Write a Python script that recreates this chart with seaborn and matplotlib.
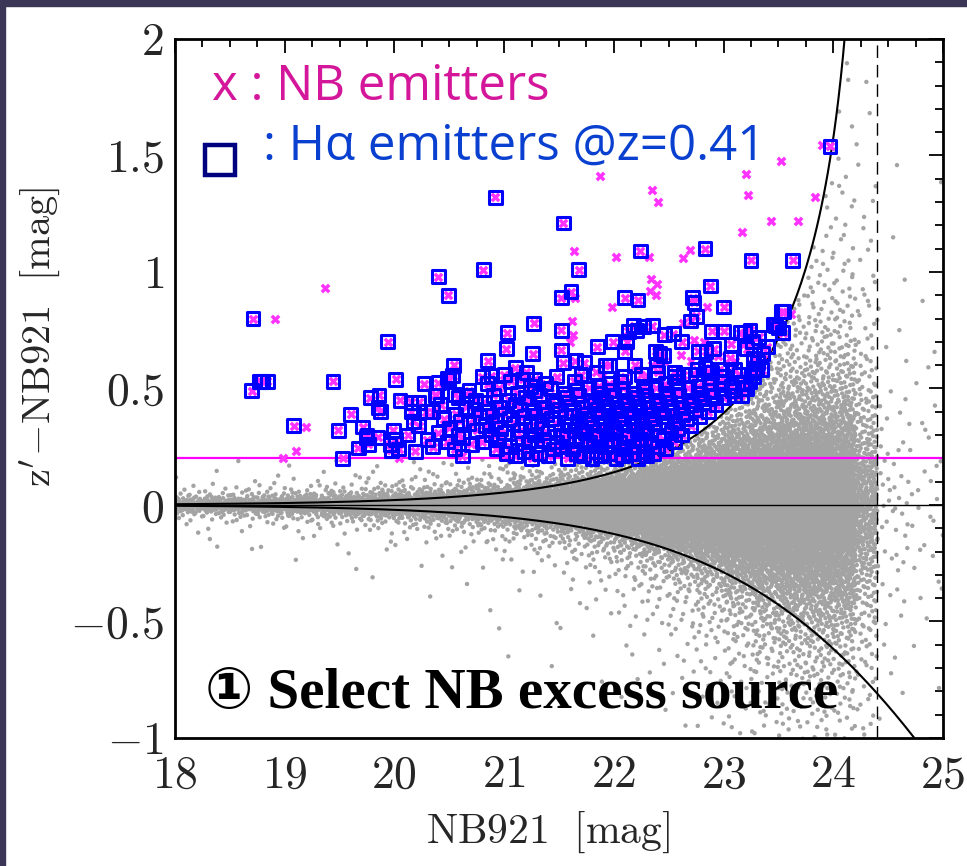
import numpy as np
import pandas as pd
import matplotlib
matplotlib.use("Agg")
import matplotlib.pyplot as plt
from matplotlib.ticker import MultipleLocator, FuncFormatter
from matplotlib.patches import Rectangle
import seaborn as sns

# ---------------------------------------------------------------------------
# H-alpha emitters at z=0.41: NB921 magnitude and z'-NB921 colour
# ---------------------------------------------------------------------------
ha_mag = [
    # bright, isolated sources
    18.71, 18.70, 18.77, 18.80, 18.84, 19.08, 19.44, 19.94, 19.53, 19.49,
    19.60, 19.71, 19.78, 19.86, 19.85, 19.87, 19.74, 19.67, 19.76, 19.85,
    20.01, 20.05, 20.15, 20.22, 20.27, 20.15, 20.17, 19.99, 19.96, 20.01,
    20.04, 19.97, 20.19, 20.29, 19.75,
    20.92, 21.54, 20.81, 20.40, 20.49, 21.68, 21.52, 21.61, 21.27, 21.03,
    21.02, 21.26, 21.52, 21.52, 21.54, 21.65, 21.73, 21.85, 21.99, 21.92,
    20.85, 20.80, 20.88, 21.10, 20.54, 20.53, 20.48, 20.40, 20.37, 20.55,
    20.66, 21.17, 21.28, 20.38, 20.49,
    22.24, 22.83, 23.25, 23.63, 22.88, 22.10, 22.22, 22.72, 22.73, 22.75,
    23.00, 23.53, 22.18, 22.13, 22.21, 22.27, 22.35, 22.70, 22.46, 22.54,
    22.89, 23.00, 23.15, 23.19, 23.45, 23.54, 22.12, 22.10, 22.38, 22.42,
    22.45, 22.62, 22.77, 22.84, 22.91, 23.07, 23.21, 23.26, 23.32, 23.27,
    23.06, 21.96, 22.19, 22.39, 22.55, 22.63, 22.76, 22.83, 22.89, 22.96,
    23.10, 23.35, 23.27, 23.21, 23.16, 23.55, 23.47, 23.50, 23.24, 23.40,
    23.36, 23.31, 23.28, 23.97,
    # crowded region just above the colour cut
    20.62, 21.02, 21.10, 21.25, 21.32, 21.40, 21.58, 21.66, 21.72, 21.80,
    21.88, 21.95, 22.02, 22.08, 22.16, 22.22, 22.30, 22.36,
    20.35, 20.55, 20.70, 20.93, 21.05, 21.18, 21.30, 21.45, 21.52, 21.62,
    21.76, 21.84, 21.92, 22.00, 22.10, 22.18, 22.27, 22.40, 22.47,
    20.30, 20.48, 20.62, 20.80, 20.95, 21.12, 21.22, 21.36, 21.48, 21.57,
    21.70, 21.78, 21.86, 21.97, 22.05, 22.13, 22.24, 22.33, 22.45, 22.55,
    20.12, 20.40, 20.58, 20.75, 20.88, 21.00, 21.15, 21.28, 21.40, 21.53,
    21.64, 21.74, 21.83, 21.93, 22.02, 22.12, 22.21, 22.30, 22.41, 22.52, 22.62,
    20.22, 20.50, 20.68, 20.83, 20.97, 21.08, 21.24, 21.34, 21.46, 21.60,
    21.70, 21.80, 21.90, 22.00, 22.09, 22.18, 22.27, 22.37, 22.48, 22.58, 22.70,
    20.45, 20.60, 20.78, 20.92, 21.05, 21.18, 21.30, 21.43, 21.56, 21.67,
    21.77, 21.88, 21.97, 22.06, 22.16, 22.25, 22.35, 22.45, 22.55, 22.66, 22.78,
    20.35, 20.56, 20.73, 20.86, 21.00, 21.14, 21.27, 21.39, 21.50, 21.63,
    21.74, 21.85, 21.95, 22.04, 22.14, 22.23, 22.33, 22.43, 22.53, 22.63,
    22.74, 22.86,
    20.42, 20.65, 20.82, 20.96, 21.10, 21.22, 21.36, 21.47, 21.59, 21.71,
    21.82, 21.92, 22.02, 22.12, 22.22, 22.31, 22.41, 22.51, 22.61, 22.71,
    22.82, 22.93,
    20.58, 20.74, 20.90, 21.04, 21.19, 21.32, 21.44, 21.57, 21.68, 21.79,
    21.90, 22.00, 22.10, 22.20, 22.29, 22.39, 22.49, 22.59, 22.69, 22.80,
    22.90, 23.00, 23.10,
    20.68, 20.95, 21.12, 21.28, 21.42, 21.55, 21.66, 21.77, 21.87, 21.98,
    22.08, 22.18, 22.28, 22.38, 22.48, 22.58, 22.68, 22.78, 22.88, 22.98,
    23.08, 23.18,
    20.85, 21.06, 21.24, 21.38, 21.64, 21.86, 21.96, 22.06, 22.27, 22.47,
    22.57, 22.77, 22.87, 22.97, 23.07, 23.17, 23.24,
    21.00, 21.20, 21.48, 21.70, 21.84, 22.10, 22.25, 22.40, 22.55, 22.70,
    22.86, 23.00, 23.14, 23.27, 23.30,
]
ha_col = [
    0.80, 0.49, 0.53, 0.53, 0.53, 0.34, 0.53, 0.70, 0.20, 0.32,
    0.39, 0.335, 0.46, 0.47, 0.42, 0.40, 0.29, 0.245, 0.26, 0.29,
    0.54, 0.45, 0.44, 0.44, 0.52, 0.40, 0.36, 0.32, 0.26, 0.28,
    0.24, 0.235, 0.23, 0.40, 0.30,
    1.32, 1.21, 1.01, 0.98, 0.90, 1.01, 0.89, 0.915, 0.78, 0.74,
    0.67, 0.65, 0.75, 0.665, 0.61, 0.62, 0.61, 0.68, 0.70, 0.60,
    0.62, 0.55, 0.555, 0.59, 0.60, 0.555, 0.545, 0.525, 0.47, 0.475,
    0.47, 0.54, 0.54, 0.47, 0.54,
    1.09, 1.10, 1.05, 1.05, 0.94, 0.89, 0.88, 0.89, 0.87, 0.81,
    0.85, 0.83, 0.77, 0.745, 0.75, 0.765, 0.77, 0.79, 0.73, 0.735,
    0.745, 0.745, 0.74, 0.74, 0.776, 0.74, 0.70, 0.66, 0.66, 0.65,
    0.64, 0.70, 0.66, 0.66, 0.67, 0.69, 0.67, 0.70, 0.72, 0.63,
    0.63, 0.60, 0.60, 0.60, 0.57, 0.56, 0.58, 0.59, 0.57, 0.58,
    0.58, 0.58, 0.55, 0.50, 0.47, 0.83, 0.77, 0.76, 0.75, 0.68,
    0.65, 0.61, 0.585, 1.54,
    0.21, 0.22, 0.21, 0.20, 0.22, 0.21, 0.20, 0.22, 0.21, 0.20,
    0.21, 0.22, 0.20, 0.21, 0.22, 0.20, 0.21, 0.22,
    0.25, 0.24, 0.26, 0.24, 0.25, 0.23, 0.26, 0.24, 0.25, 0.24,
    0.26, 0.23, 0.25, 0.26, 0.24, 0.25, 0.23, 0.25, 0.24,
    0.28, 0.27, 0.29, 0.27, 0.28, 0.29, 0.27, 0.28, 0.27, 0.29,
    0.28, 0.27, 0.29, 0.28, 0.27, 0.29, 0.28, 0.27, 0.28, 0.27,
    0.30, 0.31, 0.30, 0.32, 0.30, 0.31, 0.32, 0.30, 0.31, 0.30,
    0.32, 0.31, 0.30, 0.32, 0.31, 0.30, 0.32, 0.31, 0.30, 0.31, 0.30,
    0.34, 0.33, 0.35, 0.34, 0.33, 0.35, 0.34, 0.33, 0.35, 0.34,
    0.33, 0.35, 0.34, 0.33, 0.35, 0.34, 0.33, 0.35, 0.34, 0.33, 0.34,
    0.37, 0.36, 0.38, 0.36, 0.37, 0.38, 0.36, 0.37, 0.38, 0.36,
    0.37, 0.38, 0.36, 0.37, 0.38, 0.36, 0.37, 0.38, 0.36, 0.37, 0.38,
    0.40, 0.39, 0.41, 0.40, 0.39, 0.41, 0.40, 0.39, 0.41, 0.40,
    0.39, 0.41, 0.40, 0.39, 0.41, 0.40, 0.39, 0.41, 0.40, 0.39,
    0.41, 0.40,
    0.43, 0.42, 0.44, 0.42, 0.43, 0.44, 0.42, 0.43, 0.44, 0.42,
    0.43, 0.44, 0.42, 0.43, 0.44, 0.42, 0.43, 0.44, 0.42, 0.43,
    0.44, 0.43,
    0.46, 0.45, 0.47, 0.45, 0.46, 0.47, 0.45, 0.46, 0.47, 0.45,
    0.46, 0.47, 0.45, 0.46, 0.47, 0.45, 0.46, 0.47, 0.45, 0.46,
    0.47, 0.46, 0.47,
    0.49, 0.50, 0.48, 0.49, 0.50, 0.48, 0.49, 0.50, 0.48, 0.49,
    0.50, 0.48, 0.49, 0.50, 0.48, 0.49, 0.50, 0.48, 0.49, 0.50,
    0.49, 0.50,
    0.52, 0.53, 0.51, 0.52, 0.53, 0.51, 0.52, 0.53, 0.51, 0.52,
    0.53, 0.51, 0.52, 0.53, 0.51, 0.52, 0.53,
    0.56, 0.57, 0.55, 0.56, 0.57, 0.55, 0.56, 0.57, 0.55, 0.56,
    0.57, 0.55, 0.56, 0.57, 0.58,
]

# NB excess sources without an H-alpha identification
nb_mag = [
    18.91, 19.37, 19.19, 19.10, 18.98, 20.04, 21.87, 21.64, 22.02, 21.65,
    21.98, 21.62, 21.63, 21.60, 23.52, 23.20, 23.22, 23.83, 23.68, 23.17,
    22.35, 22.40, 22.32, 22.63, 22.69, 22.34, 22.39, 22.38, 22.33, 22.85,
    22.63, 22.73, 22.82, 23.19, 22.61, 22.21, 22.35, 23.90, 23.43, 23.61,
    22.05, 22.31, 22.62, 22.92, 23.05, 22.46, 21.90, 22.70, 23.10, 22.95,
]
nb_col = [
    0.80, 0.93, 0.335, 0.23, 0.20, 0.20, 1.41, 1.09, 1.065, 0.89,
    0.85, 0.79, 0.73, 0.70, 1.475, 1.42, 1.33, 1.32, 1.22, 1.17,
    1.35, 1.30, 1.065, 1.06, 1.095, 0.97, 0.95, 0.90, 0.92, 0.85,
    0.78, 0.71, 0.70, 0.69, 0.645, 0.585, 0.60, 1.545, 1.22, 0.82,
    0.53, 0.55, 0.42, 0.50, 0.52, 0.62, 0.56, 0.62, 0.62, 0.64,
]

# All other NB921 sources, summarised per magnitude bin:
# bin edges, number of sources and the width of the colour scatter
field_edges = [18.00, 18.25, 18.50, 18.75, 19.00, 19.25, 19.50, 19.75, 20.00,
               20.25, 20.50, 20.75, 21.00, 21.25, 21.50, 21.75, 22.00, 22.25,
               22.50, 22.75, 23.00, 23.25, 23.50, 23.75, 24.00, 24.20, 24.40,
               24.70, 25.00]
field_count = [80, 90, 100, 120, 140, 160, 190, 220, 270, 320, 380, 450, 540,
               640, 750, 880, 1000, 1150, 1300, 1450, 1600, 1700, 1750, 1650,
               1100, 450, 60, 35]
field_scatter = [0.019, 0.019, 0.019, 0.019, 0.020, 0.020, 0.020, 0.021,
                 0.021, 0.022, 0.023, 0.025, 0.028, 0.032, 0.037, 0.044,
                 0.054, 0.066, 0.082, 0.102, 0.130, 0.165, 0.190, 0.210,
                 0.240, 0.280, 0.320, 0.360]

colour_cut = 0.2        # z'-NB921 excess threshold
mag_limit = 24.4        # NB921 limiting magnitude
noise_mag = 24.29       # magnitude where the 3-sigma colour error diverges


def radical_inverse(i, base):
    f, r = 1.0, 0.0
    while i > 0:
        f /= base
        r += f * (i % base)
        i //= base
    return r


# Lay the field sources out inside each bin on a low-discrepancy grid,
# using the t(2) quantile for the colour spread.
f_mag, f_col = [], []
start = 1
for lo, hi, n, s in zip(field_edges[:-1], field_edges[1:], field_count, field_scatter):
    idx = range(start, start + n)
    u = np.array([radical_inverse(i, 2) for i in idx])
    q = np.array([radical_inverse(i, 3) for i in idx])
    q = np.clip(q, 0.5 / n, 1 - 0.5 / n)
    t = (2 * q - 1) / np.sqrt(2 * q * (1 - q))
    f_mag.append(lo + (hi - lo) * u)
    f_col.append(s * t)
    start += n
f_mag = np.concatenate(f_mag)
f_col = np.concatenate(f_col)


def sigma_curve(m, sign):
    r = 10 ** (0.4 * (np.asarray(m) - noise_mag))
    arg = 1 - sign * r
    out = np.full_like(r, np.nan)
    ok = arg > 0
    out[ok] = -2.5 * np.log10(arg[ok])
    return out


# sources that pass both excess criteria are shown as emitters instead
upper_f = sigma_curve(f_mag, 1)
emitter_like = (f_mag < mag_limit) & (f_col > colour_cut) & ~np.isnan(upper_f) \
    & (f_col > upper_f)
field = pd.DataFrame({"mag": f_mag[~emitter_like], "col": f_col[~emitter_like]})

curve_mag = np.concatenate([np.linspace(18.0, noise_mag - 0.3, 300),
                            np.linspace(noise_mag - 0.3, noise_mag - 0.005, 200)])
upper = pd.DataFrame({"mag": curve_mag, "col": sigma_curve(curve_mag, 1)})
lower_mag = np.linspace(18.0, 25.0, 400)
lower = pd.DataFrame({"mag": lower_mag, "col": sigma_curve(lower_mag, -1)})

ha = pd.DataFrame({"mag": ha_mag, "col": ha_col})
nb = pd.DataFrame({"mag": nb_mag + ha_mag, "col": nb_col + ha_col})

# ---------------------------------------------------------------------------
sns.set_theme(style="white")
plt.rcParams.update({
    "font.family": "serif",
    "font.serif": ["cmr10"],
    "mathtext.fontset": "cm",
    "axes.unicode_minus": False,
})

fig = plt.figure(figsize=(9.67, 8.66), dpi=100)
ax = fig.add_axes([0.1810, 0.1478, 0.7942, 0.8072])

sns.scatterplot(data=field, x="mag", y="col", ax=ax, color="#a3a3a3", s=10,
                linewidth=0, edgecolor="none", zorder=1, legend=False)
ax.axhline(0, color="black", lw=1.0, zorder=2)
ax.axhline(colour_cut, color="#ff00ff", lw=1.6, zorder=2)
ax.axvline(mag_limit, color="black", lw=1.0, dashes=(9, 5), zorder=2)
sns.lineplot(data=upper, x="mag", y="col", ax=ax, color="black", lw=1.5,
             zorder=2, sort=False, estimator=None)
sns.lineplot(data=lower, x="mag", y="col", ax=ax, color="black", lw=1.5,
             zorder=2, sort=False, estimator=None)
sns.scatterplot(data=nb, x="mag", y="col", ax=ax, marker="X", color="#ff33ff",
                s=50, linewidth=0, zorder=3, legend=False)
sns.scatterplot(data=ha, x="mag", y="col", ax=ax, marker="s", s=85,
                facecolor="none", edgecolor="#0000ff", linewidth=2.2,
                zorder=4, legend=False)

ax.set_xlim(18, 25)
ax.set_ylim(-1, 2)
ax.set_xlabel("")
ax.set_ylabel("")

ax.xaxis.set_major_locator(MultipleLocator(1))
ax.xaxis.set_minor_locator(MultipleLocator(0.25))
ax.yaxis.set_major_locator(MultipleLocator(0.5))
ax.yaxis.set_minor_locator(MultipleLocator(0.1))


def fmt(v, _):
    if abs(v) < 1e-9:
        v = 0
    return rf"${v:g}$"


ax.xaxis.set_major_formatter(FuncFormatter(fmt))
ax.yaxis.set_major_formatter(FuncFormatter(fmt))
ax.tick_params(which="both", direction="in", top=True, right=True,
               color="black", width=1.3, labelsize=33)
ax.tick_params(which="major", length=10)
ax.tick_params(which="minor", length=6)
ax.tick_params(axis="x", which="major", pad=12)
ax.tick_params(axis="y", which="major", pad=8)
for sp in ax.spines.values():
    sp.set_linewidth(2.0)
    sp.set_color("black")

fig.text(40 / 967, 1 - 337 / 866, r"$\mathrm{z'\!-\!NB921\ \ [mag]}$",
         rotation=90, ha="center", va="center", fontsize=29)
fig.text(548 / 967, 1 - 832 / 866, r"$\mathrm{NB921\ \ [mag]}$",
         ha="center", va="center", fontsize=30)

ax.text(0.048, 0.913, "x : NB emitters", transform=ax.transAxes,
        color="#d4179a", fontsize=35.5, family=["Open Sans", "DejaVu Sans"],
        ha="left", va="baseline", zorder=6)
ax.text(0.115, 0.827, ": H\u03b1 emitters @z=0.41", transform=ax.transAxes,
        color="#0a40d0", fontsize=35.5, family=["Open Sans", "DejaVu Sans"],
        ha="left", va="baseline", zorder=6)
ax.plot([0.0586], [0.827], transform=ax.transAxes, marker="s", ms=21,
        mfc="none", mec="#000080", mew=3.2, zorder=6, clip_on=False)

ax.text(0.039, 0.043, "\u2460 Select NB excess source", transform=ax.transAxes,
        color="black", fontsize=41, fontweight="bold",
        family=["Liberation Serif", "DejaVu Sans"],
        ha="left", va="baseline", zorder=6)

fig.patches.append(Rectangle((0, 1 - 6 / 866), 1, 6 / 866,
                             transform=fig.transFigure, color="#3b3656", zorder=0))
fig.patches.append(Rectangle((0, 0), 5 / 967, 1,
                             transform=fig.transFigure, color="#3b3656", zorder=0))

fig.savefig("out.png", dpi=100)
